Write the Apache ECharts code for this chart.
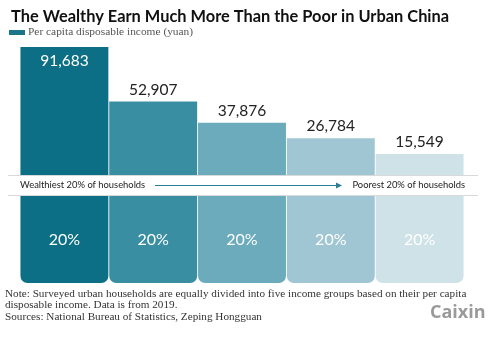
<!DOCTYPE html>
<html>
<head>
<meta charset="utf-8">
<script src="https://cdn.jsdelivr.net/npm/echarts@6/dist/echarts.min.js"></script>
<style>
  html, body { margin: 0; padding: 0; background: #fff; }
  #chart { width: 500px; height: 338px; }
</style>
</head>
<body>
<div id="chart"></div>
<script>
// Urban household income quintiles, 2019
const groups = ['Top 20%', 'Upper middle 20%', 'Middle 20%', 'Lower middle 20%', 'Bottom 20%'];
const income = [91683, 52907, 37876, 26784, 15549];
const share = [20, 20, 20, 20, 20];
const shades = ['#0d6f86', '#3a8ea2', '#6babbb', '#a0c6d3', '#cfe2e8'];

const seriesName = 'Per capita disposable income (yuan)';
const noteLines = [
  'Note: Surveyed urban households are equally divided into five income groups based on their per capita',
  'disposable income. Data is from 2019.',
  'Sources: National Bureau of Statistics, Zeping Hongguan'
];

const chart = echarts.init(document.getElementById('chart'), null, { renderer: 'canvas' });

const fmt = v => v.toLocaleString('en-US');

chart.setOption({
  animation: false,
  backgroundColor: '#ffffff',
  title: {
    text: 'The Wealthy Earn Much More Than the Poor in Urban China',
    left: 6, top: 4,
    textStyle: { fontFamily: 'Lato', fontWeight: 'bold', fontSize: 16.4, color: '#111' }
  },
  legend: {
    data: [seriesName],
    left: 4, top: 22,
    icon: 'rect', itemWidth: 16, itemHeight: 5, itemGap: 3,
    textStyle: { fontFamily: 'Liberation Serif', fontSize: 11.4, color: '#555', padding: [0, 0, 0, -2] },
    selectedMode: false
  },
  grid: [
    { left: 20, right: 36, top: 47, bottom: 162 },
    { left: 20, right: 36, top: 196, bottom: 55 }
  ],
  xAxis: [
    { type: 'category', gridIndex: 0, data: groups, show: false },
    { type: 'category', gridIndex: 1, data: groups, show: false }
  ],
  yAxis: [
    { type: 'value', gridIndex: 0, min: 0, max: 'dataMax', show: false },
    { type: 'value', gridIndex: 1, min: 0, max: 20, show: false }
  ],
  series: [
    {
      name: seriesName,
      type: 'bar',
      xAxisIndex: 0, yAxisIndex: 0,
      barWidth: '99%',
      color: '#1b7489',
      data: income.map((v, i) => ({
        value: v,
        itemStyle: { color: shades[i] },
        label: i === 0
          ? { position: 'insideTop', distance: 6, color: '#ffffff' }
          : { position: 'top', distance: 4, color: '#222' }
      })),
      label: {
        show: true,
        fontFamily: 'Lato', fontSize: 15.5,
        formatter: p => fmt(p.value)
      }
    },
    {
      name: 'Share of households',
      type: 'bar',
      xAxisIndex: 1, yAxisIndex: 1,
      barWidth: '99%',
      data: share.map((v, i) => ({ value: v, itemStyle: { color: shades[i], borderRadius: [0, 0, 7, 7] } })),
      label: {
        show: true, position: 'inside',
        fontFamily: 'Lato', fontSize: 16, color: '#ffffff',
        formatter: p => p.value + '%'
      }
    }
  ],
  graphic: [
    // divider band between the two bar rows
    { type: 'rect', shape: { x: 8, y: 176, width: 470, height: 19 }, style: { fill: '#ffffff' }, z: 10 },
    { type: 'line', shape: { x1: 8, y1: 175.5, x2: 478, y2: 175.5 }, style: { stroke: '#d6dadb', lineWidth: 1 }, z: 11 },
    { type: 'line', shape: { x1: 8, y1: 195.5, x2: 478, y2: 195.5 }, style: { stroke: '#d6dadb', lineWidth: 1 }, z: 11 },
    { type: 'text', left: 20, top: 180, z: 12,
      style: { text: 'Wealthiest 20% of households', font: '9.4px Lato', fill: '#222' } },
    { type: 'text', right: 35, top: 180, z: 12,
      style: { text: 'Poorest 20% of households', font: '9.4px Lato', fill: '#222', textAlign: 'right' } },
    { type: 'line', shape: { x1: 155, y1: 185.5, x2: 340, y2: 185.5 }, style: { stroke: '#2a7f94', lineWidth: 1 }, z: 12 },
    { type: 'polygon', shape: { points: [[336, 182.5], [342, 185.5], [336, 188.5]] }, style: { fill: '#2a7f94' }, z: 12 },
    // notes
    { type: 'text', left: 5, top: 288,
      style: { text: noteLines.join('\n'), font: '11.2px "Liberation Serif"', fill: '#333', lineHeight: 11.5 } },
    { type: 'text', left: 430, top: 304,
      style: { text: 'Caixin', font: 'bold 18px "Open Sans"', fill: '#9a9a9a' } }
  ]
});
</script>
</body>
</html>
